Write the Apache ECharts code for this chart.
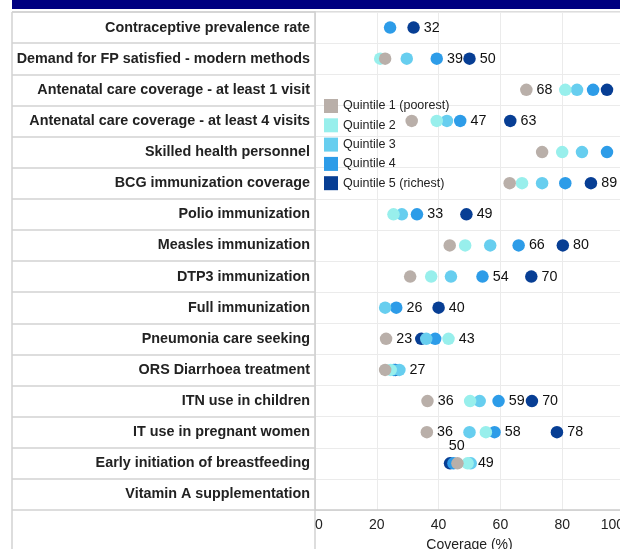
<!DOCTYPE html>
<html>
<head>
<meta charset="utf-8">
<style>
  html, body { margin: 0; padding: 0; background: #ffffff; }
  #chart { width: 620px; height: 549px; }
</style>
<script src="https://cdn.jsdelivr.net/npm/echarts@6/dist/echarts.min.js"></script>
</head>
<body>
<div id="chart"></div>
<script>
const titleText = 'Coverage by wealth quintile, 2010 (MICS 2010)';
const categories = [
  'Contraceptive prevalence rate',
  'Demand for FP satisfied - modern methods',
  'Antenatal care coverage - at least 1 visit',
  'Antenatal care coverage - at least 4 visits',
  'Skilled health personnel',
  'BCG immunization coverage',
  'Polio immunization',
  'Measles immunization',
  'DTP3 immunization',
  'Full immunization',
  'Pneumonia care seeking',
  'ORS Diarrhoea treatment',
  'ITN use in children',
  'IT use in pregnant women',
  'Early initiation of breastfeeding',
  'Vitamin A supplementation'
];
const quintileNames = ['Quintile 1 (poorest)', 'Quintile 2', 'Quintile 3', 'Quintile 4', 'Quintile 5 (richest)'];
const q1 = [null, 22.7, 68.4, 31.3, 73.5, 63.0, null, 43.6, 30.8, null, 23.0, 22.7, 36.4, 36.2, 46.1, null];
const q2 = [null, 21.1, 81.0, 39.4, 80.0, 67.0, 25.4, 48.6, 37.6, null, 43.2, 24.5, 50.2, 55.3, 49.4, null];
const q3 = [null, 29.7, 84.8, 42.7, 86.4, 73.5, 28.1, 56.7, 44.0, 22.7, 36.0, 27.3, 53.3, 50.0, 50.4, null];
const q4 = [24.3, 39.4, 90.0, 47.0, 94.5, 81.0, 33.0, 65.9, 54.2, 26.3, 38.9, 25.5, 59.4, 58.1, 44.8, null];
const q5 = [31.9, 50.0, 94.5, 63.2, null, 89.3, 49.0, 80.2, 70.0, 40.0, 34.4, 26.0, 70.2, 78.3, 43.7, null];
// rows (category indices) whose value label is visible, per quintile
const labelledRows = [
  [2, 10, 12, 13],
  [10, 14],
  [11],
  [1, 3, 6, 7, 8, 9, 12, 13],
  [0, 1, 3, 5, 6, 7, 8, 9, 12, 13]
];
// label shown above its dot instead of to the right
const raisedLabel = { quintile: 2, row: 14 };
const xTicks = { min: 0, max: 100, interval: 20 };

const colors = ['#b9afa9', '#98efec', '#67ceef', '#2d9ce8', '#073e94'];
const FONT = '"Liberation Sans", Arial, Helvetica, sans-serif';
const values = [q1, q2, q3, q4, q5];

const series = values.map((vals, s) => {
  const data = [];
  vals.forEach((v, i) => {
    if (v === null) return;
    const item = { value: [v, i] };
    if (s === raisedLabel.quintile && i === raisedLabel.row) {
      item.label = { show: true, position: 'top', offset: [-14, 0], distance: 4 };
    } else {
      item.label = { show: labelledRows[s].indexOf(i) >= 0 };
    }
    data.push(item);
  });
  return {
    name: quintileNames[s],
    type: 'scatter',
    symbol: 'circle',
    symbolSize: 12.5,
    z: 10 - s,
    itemStyle: { color: colors[s], opacity: 1 },
    label: {
      show: false,
      position: 'right',
      distance: 4,
      fontFamily: FONT,
      fontSize: 14.3,
      color: '#111',
      formatter: p => Math.round(p.value[0])
    },
    emphasis: { disabled: true },
    data: data
  };
});

const chart = echarts.init(document.getElementById('chart'), null, { renderer: 'canvas' });
chart.setOption({
  animation: false,
  backgroundColor: '#ffffff',
  textStyle: { fontFamily: FONT },
  grid: { left: 315, top: 12, width: 309, height: 498, containLabel: false, outerBoundsMode: 'none' },
  legend: {
    orient: 'vertical',
    left: 324,
    top: 99,
    padding: 0,
    itemWidth: 14,
    itemHeight: 14,
    itemGap: 5.3,
    icon: 'rect',
    textStyle: { fontFamily: FONT, fontSize: 12.5, color: '#222' },
    data: quintileNames
  },
  xAxis: {
    type: 'value',
    min: xTicks.min,
    max: xTicks.max,
    interval: xTicks.interval,
    name: 'Coverage (%)',
    nameLocation: 'middle',
    nameGap: 28,
    nameTextStyle: { fontFamily: FONT, fontSize: 14, color: '#222' },
    axisLine: { show: true, lineStyle: { color: '#cccccc', width: 1.5 } },
    axisTick: { show: false },
    axisLabel: {
      fontFamily: FONT, fontSize: 14, color: '#222', margin: 8,
      alignMinLabel: 'left', alignMaxLabel: 'right'
    },
    splitLine: { show: true, lineStyle: { color: '#ebebeb', width: 1 } }
  },
  yAxis: {
    type: 'category',
    inverse: true,
    data: categories,
    boundaryGap: true,
    axisLine: { show: true, lineStyle: { color: '#cccccc', width: 1.5 } },
    axisTick: { show: true, length: 303, alignWithLabel: false, lineStyle: { color: '#d2d2d2', width: 1.5 } },
    axisLabel: { fontFamily: FONT, fontSize: 14.35, fontWeight: 'bold', color: '#222', margin: 5, interval: 0 },
    splitLine: { show: true, lineStyle: { color: '#ebebeb', width: 1 } }
  },
  graphic: [
    { type: 'rect', shape: { x: 12, y: 0, width: 608, height: 9 }, style: { fill: '#000080' }, silent: true },
    { type: 'text', x: 316, y: 0, style: { text: titleText, fill: '#ffffff', font: 'bold 15px ' + FONT, align: 'center', verticalAlign: 'bottom' }, silent: true },
    { type: 'line', shape: { x1: 12, y1: 12, x2: 620, y2: 12 }, style: { stroke: '#d2d2d2', lineWidth: 1.5 }, silent: true },
    { type: 'line', shape: { x1: 12, y1: 12, x2: 12, y2: 549 }, style: { stroke: '#d2d2d2', lineWidth: 1.5 }, silent: true },
    { type: 'line', shape: { x1: 315, y1: 510, x2: 315, y2: 549 }, style: { stroke: '#d2d2d2', lineWidth: 1.5 }, silent: true }
  ],
  series: series
});
</script>
</body>
</html>
